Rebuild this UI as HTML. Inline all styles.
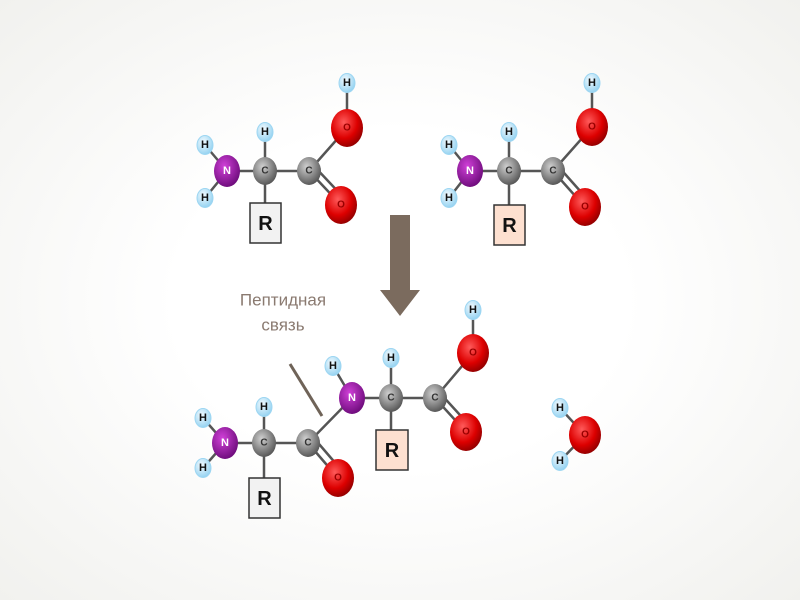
<!DOCTYPE html>
<html><head><meta charset="utf-8"><style>
html,body{margin:0;padding:0}
body{width:800px;height:600px;overflow:hidden;background:radial-gradient(ellipse at center,#ffffff 40%,#f1f1ee 100%);}
svg{position:absolute;left:0;top:0}
text{font-family:"Liberation Sans",sans-serif;font-weight:bold;text-anchor:middle;dominant-baseline:central}
text.lbl{font-weight:normal}
</style></head><body>
<svg width="800" height="600" viewBox="0 0 800 600">
<defs>
<radialGradient id="gH" cx="40%" cy="35%" r="70%"><stop offset="0" stop-color="#f4fbff"/><stop offset="1" stop-color="#8fd0f0"/></radialGradient>
<radialGradient id="gO" cx="40%" cy="35%" r="70%"><stop offset="0" stop-color="#ff5a5a"/><stop offset="0.6" stop-color="#dd0000"/><stop offset="1" stop-color="#8a0000"/></radialGradient>
<radialGradient id="gN" cx="40%" cy="35%" r="70%"><stop offset="0" stop-color="#d040d8"/><stop offset="1" stop-color="#6a0a78"/></radialGradient>
<radialGradient id="gC" cx="40%" cy="35%" r="70%"><stop offset="0" stop-color="#d0d0d0"/><stop offset="1" stop-color="#505050"/></radialGradient>
<g id="H"><ellipse rx="8" ry="9.5" fill="url(#gH)" stroke="#9dd6f2"/><text font-size="11" fill="#111">H</text></g>
<g id="O"><ellipse rx="16" ry="19" fill="url(#gO)"/><text font-size="10" fill="#900">O</text></g>
<g id="N"><ellipse rx="13" ry="16" fill="url(#gN)"/><text font-size="11" fill="#fff">N</text></g>
<g id="C"><ellipse rx="12" ry="14" fill="url(#gC)"/><text font-size="10" fill="#333">C</text></g>
</defs>
<g stroke="#555" stroke-width="2.5" fill="none">
<path d="M205,145L227,171L205,198M227,171H309M265,132V205M309,171L347,128V83M309,171L341,205M313,165L345,199"/>
<path d="M449,145L470,171L449,198M470,171H553M509,132V208M553,171L592,127V83M553,171L585,207M557,165L589,201"/>
<path d="M203,418L225,443L203,468M225,443H308M264,407V480M308,443L338,478M313,437L343,472M308,443L352,398L333,366M352,398H435M391,358V432M435,398L473,353V310M435,398L466,432M439,392L470,426"/>
<path d="M560,408L585,435L560,461"/>
</g>
<line x1="290" y1="364" x2="322" y2="416" stroke="#6f6358" stroke-width="3"/>
<rect x="250" y="203" width="31" height="40" fill="#f2f2f2" stroke="#333" stroke-width="1.5"/>
<text x="265.5" y="224" font-size="20" fill="#111">R</text>
<rect x="494" y="205" width="31" height="40" fill="#fde0d0" stroke="#333" stroke-width="1.5"/>
<text x="509.5" y="226" font-size="20" fill="#111">R</text>
<rect x="249" y="478" width="31" height="40" fill="#f2f2f2" stroke="#333" stroke-width="1.5"/>
<text x="264.5" y="499" font-size="20" fill="#111">R</text>
<rect x="376" y="430" width="32" height="40" fill="#fde0d0" stroke="#333" stroke-width="1.5"/>
<text x="392" y="451" font-size="20" fill="#111">R</text>
<use href="#H" x="205" y="145"/><use href="#H" x="205" y="198"/><use href="#H" x="265" y="132"/><use href="#H" x="347" y="83"/>
<use href="#N" x="227" y="171"/><use href="#C" x="265" y="171"/><use href="#C" x="309" y="171"/>
<use href="#O" x="347" y="128"/><use href="#O" x="341" y="205"/>
<use href="#H" x="449" y="145"/><use href="#H" x="449" y="198"/><use href="#H" x="509" y="132"/><use href="#H" x="592" y="83"/>
<use href="#N" x="470" y="171"/><use href="#C" x="509" y="171"/><use href="#C" x="553" y="171"/>
<use href="#O" x="592" y="127"/><use href="#O" x="585" y="207"/>
<use href="#H" x="203" y="418"/><use href="#H" x="203" y="468"/><use href="#H" x="264" y="407"/>
<use href="#N" x="225" y="443"/><use href="#C" x="264" y="443"/><use href="#C" x="308" y="443"/><use href="#O" x="338" y="478"/>
<use href="#H" x="333" y="366"/><use href="#H" x="391" y="358"/><use href="#H" x="473" y="310"/>
<use href="#N" x="352" y="398"/><use href="#C" x="391" y="398"/><use href="#C" x="435" y="398"/>
<use href="#O" x="473" y="353"/><use href="#O" x="466" y="432"/>
<use href="#H" x="560" y="408"/><use href="#H" x="560" y="461"/><use href="#O" x="585" y="435"/>
<polygon points="390,215 410,215 410,290 420,290 400,316 380,290 390,290" fill="#7b6b5e"/>
<text class="lbl" x="283" y="300" font-size="17" fill="#8a7a70">Пептидная</text>
<text class="lbl" x="283" y="325" font-size="17" fill="#8a7a70">связь</text>
</svg>
</body></html>
